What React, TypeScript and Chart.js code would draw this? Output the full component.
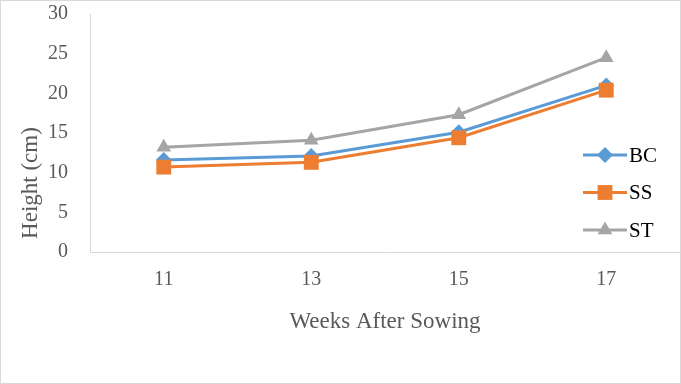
import React, { useEffect, useRef } from 'react';
import { Chart, registerables } from 'chart.js';

Chart.register(...registerables);

const categories = ['11', '13', '15', '17'];
const seriesNames = ['BC', 'SS', 'ST'];
const bcValues = [11.6, 12.1, 15.1, 21.0];
const ssValues = [10.7, 11.3, 14.4, 20.4];
const stValues = [13.2, 14.1, 17.3, 24.5];
const yMin = 0;
const yMax = 30;
const yStep = 5;
const xTitle = 'Weeks After Sowing';
const yTitle = 'Height (cm)';

const colors = ['#5B9BD5', '#ED7D31', '#A5A5A5'];
const styles = ['rectRot', 'rect', 'triangle'];
const radii = [8, 10.5, 8.5];
const FONT = "'Liberation Serif', 'Times New Roman', serif";

function drawMarker(ctx: CanvasRenderingContext2D, style: string, x: number, y: number, r: number) {
  ctx.beginPath();
  if (style === 'rectRot') {
    ctx.moveTo(x - r, y);
    ctx.lineTo(x, y - r);
    ctx.lineTo(x + r, y);
    ctx.lineTo(x, y + r);
  } else if (style === 'rect') {
    const s = Math.SQRT1_2 * r;
    ctx.rect(x - s, y - s, 2 * s, 2 * s);
  } else {
    ctx.moveTo(x, y - r);
    ctx.lineTo(x + 0.866 * r, y + 0.5 * r);
    ctx.lineTo(x - 0.866 * r, y + 0.5 * r);
  }
  ctx.closePath();
  ctx.fill();
}

const decorPlugin = {
  id: 'decor',
  beforeDraw(chart: any) {
    const ctx = chart.ctx;
    ctx.save();
    ctx.fillStyle = '#ffffff';
    ctx.fillRect(0, 0, chart.width, chart.height);
    ctx.restore();
  },
  afterDraw(chart: any) {
    const ctx = chart.ctx as CanvasRenderingContext2D;
    ctx.save();
    ctx.strokeStyle = '#d9d9d9';
    ctx.lineWidth = 1;
    ctx.strokeRect(0.5, 0.5, chart.width - 1, chart.height - 1);
    ctx.fillStyle = '#595959';
    ctx.font = `23px ${FONT}`;
    ctx.textAlign = 'center';
    ctx.textBaseline = 'middle';
    ctx.translate(31, 183);
    ctx.rotate(-Math.PI / 2);
    ctx.fillText(yTitle, 0, 0);
    ctx.restore();
    ctx.save();
    chart.data.datasets.forEach((ds: any, i: number) => {
      const y = 155 + i * 37.5;
      ctx.strokeStyle = colors[i];
      ctx.lineWidth = 3;
      ctx.beginPath();
      ctx.moveTo(583, y);
      ctx.lineTo(627, y);
      ctx.stroke();
      ctx.fillStyle = colors[i];
      drawMarker(ctx, styles[i], 605, y, radii[i]);
      ctx.fillStyle = '#000000';
      ctx.font = `21px ${FONT}`;
      ctx.textAlign = 'left';
      ctx.textBaseline = 'middle';
      ctx.fillText(ds.label, 629, y + 1);
    });
    ctx.restore();
  },
};

export default function App() {
  const ref = useRef<HTMLCanvasElement | null>(null);
  useEffect(() => {
    document.body.style.margin = '0';
    const canvas = ref.current;
    if (!canvas) return;
    const values = [bcValues, ssValues, stValues];
    const chart = new Chart(canvas, {
      type: 'line',
      data: {
        labels: categories,
        datasets: seriesNames.map((name, i) => ({
          label: name,
          data: values[i],
          borderColor: colors[i],
          backgroundColor: colors[i],
          borderWidth: 3,
          pointStyle: styles[i] as any,
          pointRadius: radii[i],
          pointHoverRadius: radii[i],
          pointBorderWidth: 0,
          pointBackgroundColor: colors[i],
          tension: 0,
          fill: false,
          clip: false as any,
          order: 2 - i,
        })),
      },
      options: {
        responsive: false,
        animation: false,
        layout: { autoPadding: false, padding: { top: 14, right: 1, bottom: 0, left: 0 } },
        plugins: {
          legend: { display: false },
          tooltip: { enabled: false },
          title: { display: false },
        },
        scales: {
          x: {
            offset: true,
            grid: { display: false, drawTicks: false },
            border: { display: true, color: '#d9d9d9', width: 1 },
            ticks: {
              color: '#595959',
              font: { family: FONT, size: 20 },
              padding: 16,
              maxRotation: 0,
            },
            title: {
              display: true,
              text: xTitle,
              color: '#595959',
              font: { family: FONT, size: 23 },
              padding: { top: 0, bottom: 48 },
            },
            afterFit: (s: any) => {
              s.height = 132;
              s.paddingLeft = 0;
              s.paddingRight = 0;
              s.paddingTop = 0;
              s.paddingBottom = 0;
            },
          },
          y: {
            min: yMin,
            max: yMax,
            grid: { display: false, drawTicks: false },
            border: { display: true, color: '#d9d9d9', width: 1 },
            ticks: {
              stepSize: yStep,
              color: '#595959',
              font: { family: FONT, size: 20 },
              padding: 22,
            },
            afterFit: (s: any) => {
              s.width = 90;
              s.paddingTop = 0;
              s.paddingBottom = 0;
              s.paddingLeft = 0;
              s.paddingRight = 0;
            },
          },
        },
      },
      plugins: [decorPlugin],
    });
    return () => chart.destroy();
  }, []);
  return (
    <div style={{ width: 681, height: 384 }}>
      <canvas ref={ref} width={681} height={384} style={{ display: 'block' }} />
    </div>
  );
}
